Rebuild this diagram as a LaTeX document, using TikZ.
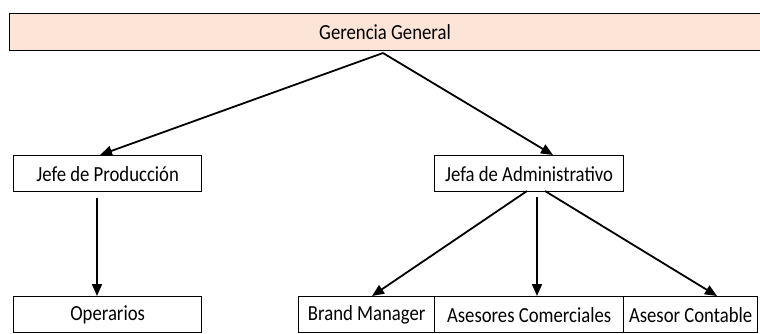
\documentclass[tikz,border=0pt]{standalone}
\usepackage{fontspec}
\setmainfont{Carlito}[FakeStretch=0.87]
\usetikzlibrary{arrows.meta}
\definecolor{peach}{HTML}{FCE4D6}
\tikzset{
  lbl/.style={font=\fontsize{21.5}{23}\selectfont},
  box/.style={draw=black, line width=1.3pt, inner sep=0pt, lbl},
  conn/.style={draw=black, line width=1.8pt, -{Triangle[length=12pt,width=10pt]}}
}
\begin{document}
\begin{tikzpicture}[x=1pt,y=-1pt]
\useasboundingbox (0,0) rectangle (760,333);
\begin{scope}
\clip (0,0) rectangle (760,333);
\node[box, fill=peach, minimum width=753pt, minimum height=37pt, anchor=north west] (gg) at (9,13) {};
\end{scope}
\node[lbl] (ggt) at (385,32) {Gerencia General};
\node[box, minimum width=188pt, minimum height=36pt, anchor=north west] (jp) at (13,155) {Jefe de Producción};
\node[box, minimum width=189pt, minimum height=36pt, anchor=north west] (ja) at (434,155) {Jefa de Administrativo};
\node[box, minimum width=188pt, minimum height=36pt, anchor=north west] (op) at (13,296) {Operarios};
\node[box, minimum width=136pt, minimum height=36pt, anchor=north west] (bm) at (298,296) {Brand Manager};
\node[box, minimum width=189pt, minimum height=36pt, anchor=north west] (ac) at (434,296) {Asesores Comerciales};
\node[box, minimum width=134pt, minimum height=36pt, anchor=north west] (aco) at (623,296) {Asesor Contable};
\coordinate (o) at (383,53);
\draw[conn] (o) -- (jp.north west -| 100,0);
\draw[conn] (o) -- (ja.north west -| 553,0);
\coordinate (jpb) at (97,198);
\draw[conn] (jpb) -- (op.north west -| 97,0);
\coordinate (jab1) at (527,191);
\coordinate (jab2) at (537,197);
\coordinate (jab3) at (545,191);
\draw[conn] (jab1) -- (bm.north west -| 372,0);
\draw[conn] (jab2) -- (ac.north west -| 537,0);
\draw[conn] (jab3) -- (aco.north west -| 717,0);
\end{tikzpicture}
\end{document}
